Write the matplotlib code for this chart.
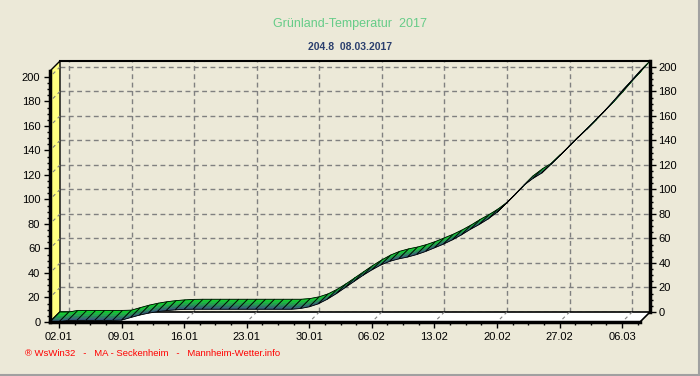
import matplotlib
matplotlib.use('Agg')
import matplotlib.pyplot as plt
import matplotlib.dates as mdates
from matplotlib.patches import Polygon
from matplotlib.collections import PolyCollection
from matplotlib.lines import Line2D
from matplotlib.ticker import MultipleLocator, FixedLocator
import numpy as np
import pandas as pd

plt.rcParams['font.family'] = ['Liberation Sans', 'DejaVu Sans']

# daily data, 01.01.2017 .. 08.03.2017
dates = pd.date_range('2017-01-01', '2017-03-08', freq='D')
values = [0.0, 0.0, 1.3, 1.3, 1.3, 1.3, 1.3, 1.3, 1.5, 3.6,
          5.6, 7.2, 8.4, 9.3, 9.9, 10.3, 10.4, 10.4, 10.4, 10.4,
          10.4, 10.4, 10.4, 10.4, 10.4, 10.4, 10.4, 10.4, 11.0, 12.4,
          14.8, 18.5, 23.0, 28.0, 33.0, 38.0, 42.5, 46.5, 49.5, 51.5,
          53.0, 55.0, 57.5, 60.5, 63.5, 67.0, 71.0, 75.5, 79.5, 84.0,
          89.5, 96.5, 104.0, 111.5, 117.0, 121.5, 128.5, 135.5, 143.0, 150.0,
          157.0, 164.5, 172.0, 180.0, 188.5, 196.5, 204.8]
tick_dates = pd.date_range('2017-01-02', '2017-03-08', freq='7D')

title = 'Grünland-Temperatur  2017'
subtitle = '204.8  08.03.2017'
footer = '® WsWin32   -   MA - Seckenheim   -   Mannheim-Wetter.info'

BG = '#ece9d8'
DEPTH = 10  # px, 3d offset
W, H = 700, 376

fig = plt.figure(figsize=(W / 100, H / 100), dpi=100, facecolor=BG)

x = mdates.date2num(dates)
y = np.array(values)
xlim = (x[0], x[-1])
ylim = (0, max(values))

# back wall of the 3d chart
ax = fig.add_axes([60 / W, (H - 312) / H, 590 / W, 251 / H])
ax.set_facecolor('none')
ax.set_xlim(xlim)
ax.set_ylim(ylim)

# front plane, shifted down-left by DEPTH px
axf = fig.add_axes([(60 - DEPTH) / W, (H - 312 - DEPTH) / H, 590 / W, 251 / H])
axf.set_facecolor('none')
axf.set_xlim(xlim)
axf.set_ylim(ylim)

# depth offset in data units
p0 = ax.transData.transform((x[0], 0))
q0 = ax.transData.inverted().transform(p0 - DEPTH)
dx, dy = x[0] - q0[0], 0 - q0[1]

# grid on back wall
ax.xaxis.set_major_locator(FixedLocator(mdates.date2num(tick_dates)))
ax.yaxis.set_major_locator(MultipleLocator(20))
ax.grid(True, color='#808080', linestyle=(0, (3.5, 2.5)), linewidth=1)
ax.set_axisbelow(True)

# left wall (yellow) and floor (white)
wall = Polygon([(xlim[0], 0), (xlim[0], ylim[1]), (xlim[0] - dx, ylim[1] - dy),
                (xlim[0] - dx, -dy)], closed=True, facecolor='#ffff80',
               edgecolor='black', linewidth=1, clip_on=False, zorder=2)
floor = Polygon([(xlim[0], 0), (xlim[1], 0), (xlim[1] - dx, -dy),
                 (xlim[0] - dx, -dy)], closed=True, facecolor='white',
                edgecolor='black', linewidth=1.2, clip_on=False, zorder=2)
ax.add_patch(wall)
ax.add_patch(floor)
for v in range(20, 201, 20):
    ax.plot([xlim[0], xlim[0] - dx], [v, v - dy], color='#808080', lw=0.8,
            linestyle=(0, (3, 3)), clip_on=False, zorder=2.5)
for t in mdates.date2num(tick_dates):
    ax.plot([t, t - dx], [0, -dy], color='#808080', lw=0.8,
            linestyle=(0, (3, 3)), clip_on=False, zorder=2.5)

# 3d ribbon: back edge green, front edge dark blue
c_back = np.array([0.05, 0.85, 0.15])
c_front = np.array([0.22, 0.30, 0.50])
nstrip = 6
for i in range(len(x) - 1):
    polys, cols = [], []
    for k in range(nstrip):
        t0, t1 = k / nstrip, (k + 1) / nstrip
        polys.append([(x[i] - t0 * dx, y[i] - t0 * dy),
                      (x[i + 1] - t0 * dx, y[i + 1] - t0 * dy),
                      (x[i + 1] - t1 * dx, y[i + 1] - t1 * dy),
                      (x[i] - t1 * dx, y[i] - t1 * dy)])
        tm = ((t0 + t1) / 2) ** 1.3
        cols.append(c_back * (1 - tm) + c_front * tm)
    pc = PolyCollection(polys, facecolors=cols, edgecolors=cols,
                        linewidths=0.4, clip_on=False, zorder=3 + i * 0.01)
    ax.add_collection(pc)
    outline = Polygon([(x[i], y[i]), (x[i + 1], y[i + 1]),
                       (x[i + 1] - dx, y[i + 1] - dy), (x[i] - dx, y[i] - dy)],
                      closed=True, fill=False, edgecolor='black', linewidth=0.6,
                      clip_on=False, zorder=3 + i * 0.01 + 0.005)
    ax.add_patch(outline)

# back axes: right axis + top frame
for s in ['left', 'bottom']:
    ax.spines[s].set_visible(False)
ax.spines['top'].set_linewidth(1.5)
ax.spines['right'].set_linewidth(2.5)
ax.spines['top'].set_zorder(10)
ax.spines['right'].set_zorder(10)
ax.yaxis.tick_right()
ax.yaxis.set_minor_locator(MultipleLocator(5))
ax.tick_params(axis='y', which='major', direction='out', length=4, width=1,
               pad=2, labelsize=8, colors='black')
ax.tick_params(axis='y', which='minor', direction='out', length=2, width=1)
ax.tick_params(axis='x', which='both', length=0, labelbottom=False)

# front axes: left axis + date axis
for s in ['top', 'right']:
    axf.spines[s].set_visible(False)
axf.spines['left'].set_linewidth(2.5)
axf.spines['bottom'].set_linewidth(2.5)
axf.yaxis.set_major_locator(MultipleLocator(20))
axf.yaxis.set_minor_locator(MultipleLocator(5))
axf.xaxis.set_major_locator(FixedLocator(mdates.date2num(tick_dates)))
axf.xaxis.set_minor_locator(FixedLocator(
    np.arange(mdates.date2num(tick_dates[0]), xlim[1] + 0.01, 1.75)))
axf.xaxis.set_major_formatter(mdates.DateFormatter('%d.%m'))
axf.tick_params(axis='both', which='major', direction='out', length=4, width=1,
                pad=3, labelsize=8)
axf.tick_params(axis='both', which='minor', direction='out', length=2.5, width=1)

fig.text(0.5, 1 - 24 / H, title, ha='center', va='center', fontsize=9,
         color='#66cc88')
fig.text(0.5, 1 - 46.5 / H, subtitle, ha='center', va='center', fontsize=7.5,
         fontweight='bold', color='#2b3f6e')
fig.text(25 / W, 1 - 353 / H, footer, ha='left', va='center', fontsize=6.8,
         color='#ff0000')

# window border
fig.add_artist(Line2D([0, 1], [0.002, 0.002], transform=fig.transFigure,
                      color='#a0a0a0', lw=1.5))
fig.add_artist(Line2D([0.998, 0.998], [0, 1], transform=fig.transFigure,
                      color='#a0a0a0', lw=1.5))

fig.savefig('out.png', dpi=100, facecolor=BG)
